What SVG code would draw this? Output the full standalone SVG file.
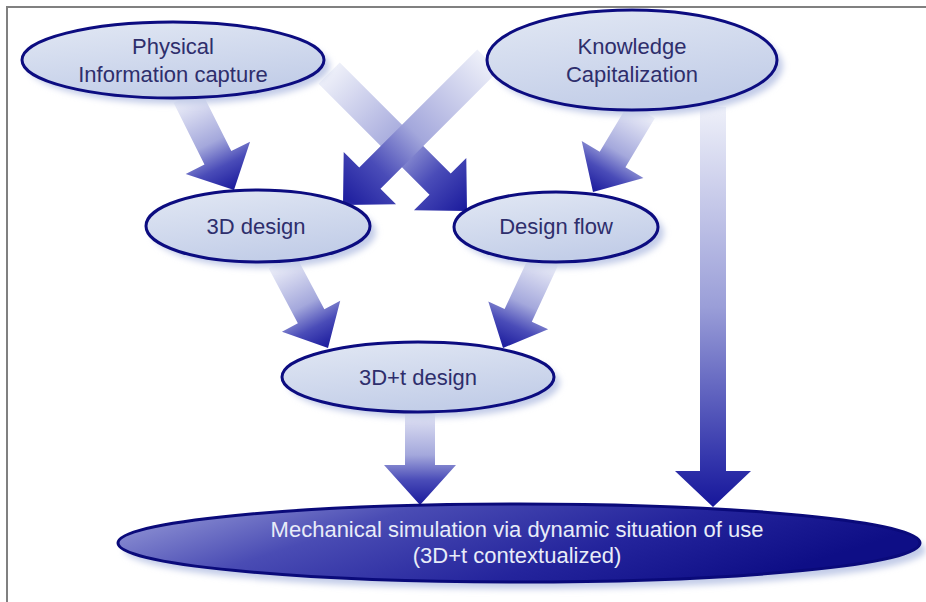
<svg xmlns="http://www.w3.org/2000/svg" width="926" height="602" viewBox="0 0 926 602">
<style>
.node{stroke:#0c0c80;stroke-width:3;fill:url(#nodeFill)}
.shadow{fill:#c3cce8;filter:url(#blur)}
.lbl{font-family:"Liberation Sans",Arial,sans-serif;font-size:22px;fill:#2e2e6c;text-anchor:middle}
.lblw{font-family:"Liberation Sans",Arial,sans-serif;font-size:22px;fill:#e8ecf8;text-anchor:middle}
.arrow{fill:url(#arrowFill)}
</style>
<defs>
<linearGradient id="nodeFill" x1="0" y1="0" x2="0.4" y2="1">
<stop offset="0" stop-color="#e2e8f4"/>
<stop offset="1" stop-color="#c3cee8"/>
</linearGradient>
<linearGradient id="bigFill" x1="0" y1="0" x2="1" y2="0.3">
<stop offset="0" stop-color="#a0a4dc"/>
<stop offset="0.35" stop-color="#4a4cb4"/>
<stop offset="0.7" stop-color="#24249c"/>
<stop offset="1" stop-color="#0e0e86"/>
</linearGradient>
<linearGradient id="arrowFill" x1="0" y1="0" x2="0" y2="1">
<stop offset="0" stop-color="#eef0f9"/>
<stop offset="0.5" stop-color="#a4a8dc"/>
<stop offset="0.75" stop-color="#4a4cb8"/>
<stop offset="1" stop-color="#1a1a9c"/>
</linearGradient>
<linearGradient id="arrowFillLong" x1="0" y1="0" x2="0" y2="1">
<stop offset="0" stop-color="#eef0f9"/>
<stop offset="0.5" stop-color="#9a9ed8"/>
<stop offset="0.88" stop-color="#3436ac"/>
<stop offset="1" stop-color="#16169a"/>
</linearGradient>
<filter id="blur" x="-10%" y="-20%" width="120%" height="140%">
<feGaussianBlur stdDeviation="3"/>
</filter>
</defs>
<rect x="0" y="0" width="926" height="602" fill="#ffffff"/>
<g id="frame" stroke="#808080" stroke-width="2" fill="none">
<line x1="6" y1="7" x2="926" y2="7"/>
<line x1="7" y1="6" x2="7" y2="602"/>
</g>
<g id="connectors">
<path class="arrow" transform="translate(234,190) rotate(-26.6)" d="M-15,-105 L15,-105 L15,-36 L36,-36 L0,0 L-36,-36 L-15,-36 Z"/>
<path class="arrow" transform="translate(467,211) rotate(-45)" d="M-15,-195 L15,-195 L15,-38 L37,-38 L0,0 L-37,-38 L-15,-38 Z"/>
<path class="arrow" transform="translate(343,205) rotate(45)" d="M-15,-205 L15,-205 L15,-38 L37,-38 L0,0 L-37,-38 L-15,-38 Z"/>
<path class="arrow" transform="translate(593,192) rotate(31)" d="M-15,-95 L15,-95 L15,-38 L36,-38 L0,0 L-36,-38 L-15,-38 Z"/>
<path fill="url(#arrowFillLong)" transform="translate(713,507)" d="M-13,-400 L13,-400 L13,-36 L38,-36 L0,0 L-38,-36 L-13,-36 Z"/>
<path class="arrow" transform="translate(328,348) rotate(-28)" d="M-15,-98 L15,-98 L15,-36 L33,-36 L0,0 L-33,-36 L-15,-36 Z"/>
<path class="arrow" transform="translate(503,348) rotate(25)" d="M-15,-98 L15,-98 L15,-36 L33,-36 L0,0 L-33,-36 L-15,-36 Z"/>
<path class="arrow" transform="translate(420,505)" d="M-15,-100 L15,-100 L15,-40 L36,-40 L0,0 L-36,-40 L-15,-40 Z"/>
</g>
<g id="node-physical">
<ellipse class="shadow" cx="179" cy="66" rx="151" ry="38"/>
<ellipse class="node" cx="173" cy="60" rx="151" ry="38"/>
<text class="lbl" x="173" y="54">Physical</text>
<text class="lbl" x="173" y="82">Information capture</text>
</g>
<g id="node-knowledge">
<ellipse class="shadow" cx="638" cy="66" rx="145" ry="50"/>
<ellipse class="node" cx="632" cy="60" rx="145" ry="50"/>
<text class="lbl" x="632" y="54">Knowledge</text>
<text class="lbl" x="632" y="82">Capitalization</text>
</g>
<g id="node-3d">
<ellipse class="shadow" cx="264" cy="232" rx="112" ry="36"/>
<ellipse class="node" cx="258" cy="226" rx="112" ry="36"/>
<text class="lbl" x="256" y="234">3D design</text>
</g>
<g id="node-flow">
<ellipse class="shadow" cx="562" cy="233" rx="102" ry="35"/>
<ellipse class="node" cx="556" cy="227" rx="102" ry="35"/>
<text class="lbl" x="556" y="234">Design flow</text>
</g>
<g id="node-3dt">
<ellipse class="shadow" cx="424" cy="383" rx="136" ry="35"/>
<ellipse class="node" cx="418" cy="377" rx="136" ry="35"/>
<text class="lbl" x="418" y="385">3D+t design</text>
</g>
<g id="node-simulation">
<ellipse class="shadow" cx="525" cy="550" rx="401" ry="39"/>
<ellipse cx="519" cy="543" rx="401" ry="39" fill="url(#bigFill)" stroke="#0a0a7a" stroke-width="3"/>
<text class="lblw" x="517" y="537">Mechanical simulation via dynamic situation of use</text>
<text class="lblw" x="517" y="563">(3D+t contextualized)</text>
</g>
</svg>
